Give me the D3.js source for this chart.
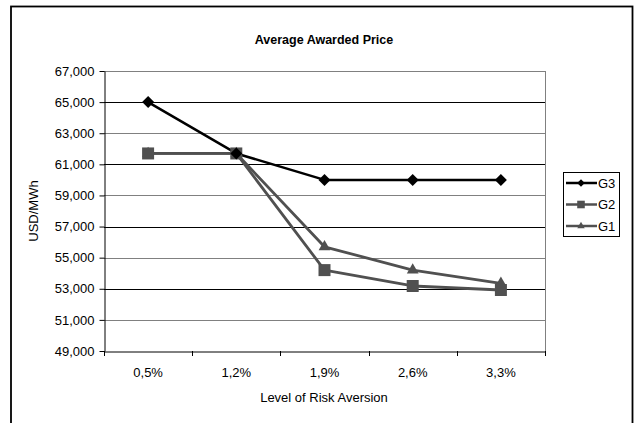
<!DOCTYPE html>
<html><head><meta charset="utf-8">
<script src="https://cdn.jsdelivr.net/npm/d3@7"></script>
<style>body{margin:0;background:#fff}svg{display:block}text{font-family:"Liberation Sans",Arial,sans-serif}</style>
</head><body>
<svg id="c" width="639" height="423"></svg>
<script>
const categories = ["0,5%","1,2%","1,9%","2,6%","3,3%"];
const seriesNames = ["G3","G2","G1"];
const g3 = [65000, 61700, 60000, 60000, 60000];
const g2 = [61700, 61700, 54200, 53180, 52920];
const g1 = [61700, 61700, 55700, 54200, 53350];
const yTicks = [49000,51000,53000,55000,57000,59000,61000,63000,65000,67000];

const svg = d3.select("#c");
const L=104, R=545, T=71, B=351;
// outer frame
svg.append("rect").attr("x",11).attr("y",6.5).attr("width",621.5).attr("height",430)
  .attr("fill","none").attr("stroke","#000").attr("stroke-width",1.8);

const x = d3.scaleBand().domain(categories).range([L,R]);
const y = d3.scaleLinear().domain([49000,67000]).range([B,T]);

// gridlines
svg.append("g").selectAll("line").data(yTicks.slice(1)).join("line")
  .attr("x1",L).attr("x2",R).attr("y1",d=>Math.round(y(d))+0.5).attr("y2",d=>Math.round(y(d))+0.5)
  .attr("stroke",(d,i)=> i%2===0 ? "#808080" : "#000").attr("stroke-width",1);
// plot border right
svg.append("line").attr("x1",R+0.5).attr("x2",R+0.5).attr("y1",T).attr("y2",B).attr("stroke","#808080");

// axes
const ya = svg.append("g").attr("transform",`translate(${L+0.5},0)`)
  .call(d3.axisLeft(y).tickValues(yTicks).tickFormat(d3.format(",")).tickSize(5).tickSizeOuter(0));
ya.select(".domain").attr("stroke","#000");
ya.selectAll("text").attr("font-size",13).attr("fill","#000").attr("dx",-2);
const xa = svg.append("g").attr("transform",`translate(0,${B+0.5})`)
  .call(d3.axisBottom(x).tickSize(0).tickSizeOuter(0));
xa.select(".domain").attr("stroke","#000");
xa.selectAll("text").attr("font-size",13).attr("fill","#000").attr("y",25).attr("dy",0);
// x ticks at band boundaries
svg.append("g").selectAll("line").data(d3.range(categories.length+1)).join("line")
  .attr("x1",i=>Math.round(L+i*x.step())+0.5).attr("x2",i=>Math.round(L+i*x.step())+0.5)
  .attr("y1",B).attr("y2",B+5).attr("stroke","#000");

// titles
svg.append("text").attr("x",324).attr("y",44).attr("text-anchor","middle")
  .attr("font-size",12.5).attr("font-weight","bold").text("Average Awarded Price");
svg.append("text").attr("x",324).attr("y",401.5).attr("text-anchor","middle")
  .attr("font-size",13).text("Level of Risk Aversion");
svg.append("text").attr("transform","translate(38,211) rotate(-90)").attr("text-anchor","middle")
  .attr("font-size",13).text("USD/MWh");

const cx = c => x(c)+x.bandwidth()/2;
const series = [
  {name:"G1", vals:g1, color:"#505050", sym:d3.symbolTriangle, size:60, rot:0, w:2.8},
  {name:"G2", vals:g2, color:"#505050", sym:d3.symbolSquare, size:144, rot:0, w:2.8},
  {name:"G3", vals:g3, color:"#000", sym:d3.symbolSquare, size:72, rot:45, w:2.5}
];
const line = d3.line().x((d,i)=>cx(categories[i])).y(d=>y(d));
series.forEach(s=>{
  svg.append("path").datum(s.vals).attr("d",line).attr("fill","none")
    .attr("stroke",s.color).attr("stroke-width",s.w).attr("stroke-linejoin","round");
});
series.forEach(s=>{
  svg.append("g").selectAll("path").data(s.vals).join("path")
    .attr("d",d3.symbol(s.sym,s.size))
    .attr("transform",(d,i)=>`translate(${cx(categories[i])},${y(d)}) rotate(${s.rot})`)
    .attr("fill",s.color);
});

// legend
const lg = svg.append("g");
lg.append("rect").attr("x",563.5).attr("y",172.5).attr("width",56).attr("height",64)
  .attr("fill","#fff").attr("stroke","#000");
const legendSeries = seriesNames.map(n=>series.find(s=>s.name===n));
legendSeries.forEach((s,i)=>{
  const yy = 183 + i*21.5;
  lg.append("line").attr("x1",566).attr("x2",597).attr("y1",yy).attr("y2",yy)
    .attr("stroke",s.color).attr("stroke-width",2.5);
  lg.append("path").attr("d",d3.symbol(s.sym,s.size*0.4)).attr("transform",`translate(581,${yy}) rotate(${s.rot})`).attr("fill",s.color);
  lg.append("text").attr("x",598).attr("y",yy+4.5).attr("font-size",13).text(s.name);
});
</script>
</body></html>
